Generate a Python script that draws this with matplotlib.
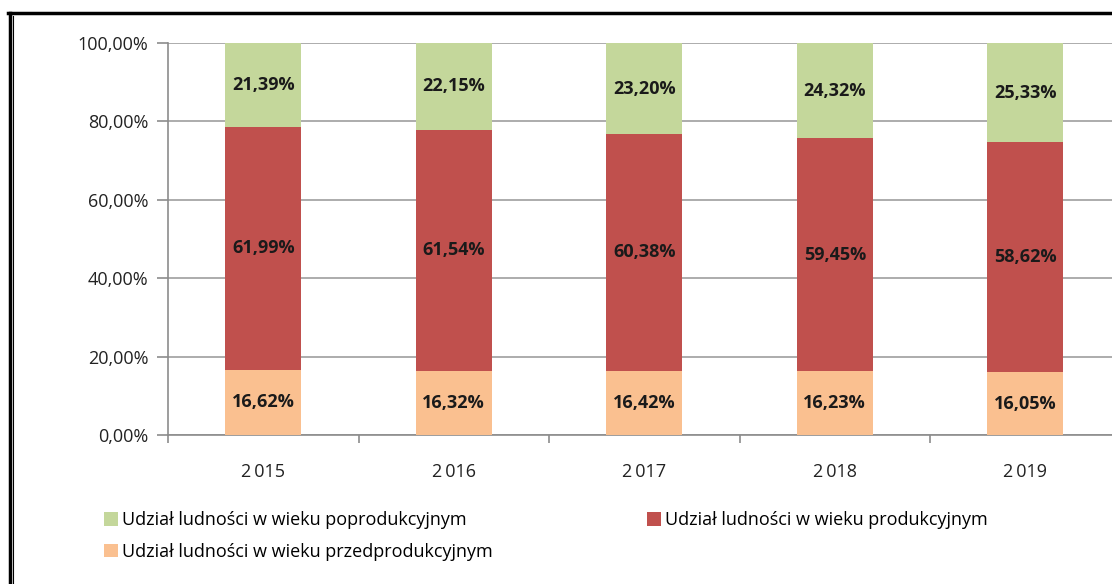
import matplotlib.pyplot as plt
import numpy as np
from matplotlib.lines import Line2D

# Dane
lata = ['2\u2009015', '2\u2009016', '2\u2009017', '2\u2009018', '2\u2009019']
przedprodukcyjny = [16.62, 16.32, 16.42, 16.23, 16.05]
produkcyjny = [61.99, 61.54, 60.38, 59.45, 58.62]
poprodukcyjny = [21.39, 22.15, 23.20, 24.32, 25.33]

plt.rcParams['font.family'] = ['Open Sans', 'DejaVu Sans']

kolor_przed = '#FAC090'
kolor_prod = '#C0504D'
kolor_popro = '#C4D79B'
szary = '#8C8C8C'


def fmt(v):
    return f'{v:.2f}'.replace('.', ',') + '%'


def wykres():
    fig = plt.figure(figsize=(11.12, 5.84), dpi=100)
    ax = fig.add_axes([0.1511, 0.2551, 0.8566, 0.6712])

    x = np.arange(len(lata))
    w = 0.4
    dolne = np.array(przedprodukcyjny)
    srodek = dolne + np.array(produkcyjny)

    b1 = ax.bar(x, przedprodukcyjny, w, color=kolor_przed, zorder=3)
    b2 = ax.bar(x, produkcyjny, w, bottom=dolne, color=kolor_prod, zorder=3)
    b3 = ax.bar(x, poprodukcyjny, w, bottom=srodek, color=kolor_popro, zorder=3)

    for vals, base in [(przedprodukcyjny, np.zeros(5)),
                       (produkcyjny, dolne),
                       (poprodukcyjny, srodek)]:
        for i, v in enumerate(vals):
            ax.text(x[i], base[i] + v / 2, fmt(v), ha='center', va='center',
                    fontsize=13, fontweight='bold', color='#1a1a1a', zorder=4)

    ax.set_xlim(-0.5, len(lata) - 0.5)
    ax.set_ylim(0, 100)
    ax.set_yticks(np.arange(0, 101, 20))
    ax.set_yticklabels([fmt(v) for v in np.arange(0, 101, 20)], fontsize=13,
                       color='#222222')
    ax.yaxis.grid(True, color='#A6A6A6', linewidth=1.3, zorder=0)

    ax.set_xticks(x)
    ax.set_xticklabels(lata, fontsize=13, color='#222222')
    ax.set_xticks(np.arange(-0.5, len(lata)), minor=True)
    ax.tick_params(axis='x', which='major', length=0, pad=20)
    ax.tick_params(axis='x', which='minor', length=6, color=szary, width=1.2)
    ax.tick_params(axis='y', length=8, color=szary, width=1.2, pad=6)

    for s in ['top', 'right']:
        ax.spines[s].set_visible(False)
    for s in ['left', 'bottom']:
        ax.spines[s].set_color(szary)
        ax.spines[s].set_linewidth(1.2)

    fig.legend([b3, b1, b2],
               ['Udział ludności w wieku poprodukcyjnym',
                'Udział ludności w wieku przedprodukcyjnym',
                'Udział ludności w wieku produkcyjnym'],
               ncol=2, loc='upper left', bbox_to_anchor=(0.087, 0.137),
               frameon=False, fontsize=13, handlelength=0.8, handleheight=0.8,
               handletextpad=0.22, columnspacing=8.5, labelspacing=0.75,
               borderaxespad=0)

    # ramka
    H, W = 584, 1112
    fig.add_artist(Line2D([9.5 / W, 9.5 / W], [0, 1 - 12.5 / H], color='black', lw=2.5))
    fig.add_artist(Line2D([12.5 / W, 12.5 / W], [0, 1 - 16 / H], color='black', lw=0.8))
    fig.add_artist(Line2D([8 / W, 1], [1 - 13 / H, 1 - 13 / H], color='black', lw=2.5))

    fig.savefig('out.png', dpi=100)


if __name__ == '__main__':
    wykres()
